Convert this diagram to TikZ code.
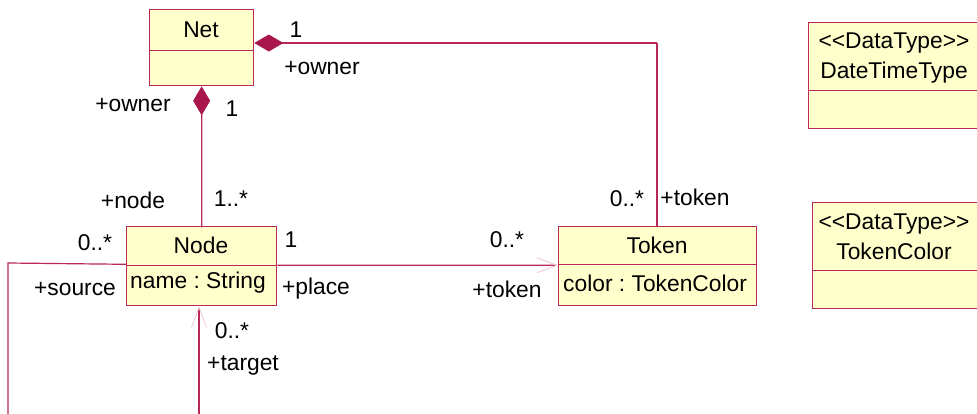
\documentclass[tikz,border=0pt]{standalone}
\usepackage{fontspec}
\setmainfont{Liberation Sans}
\usetikzlibrary{arrows.meta}
\definecolor{umlline}{HTML}{B8285A}
\definecolor{umlfill}{HTML}{FFFFCC}
\definecolor{umldia}{HTML}{A8164C}
\definecolor{faint}{HTML}{F2C4D0}
\frenchspacing
\begin{document}
\begin{tikzpicture}[x=1bp,y=-1bp,
  every node/.style={font=\fontsize{22.8bp}{30bp}\selectfont, inner sep=0pt},
  box/.style={draw=umlline, fill=umlfill, line width=1.3bp, anchor=north west, inner sep=0pt},
  conn/.style={draw=umlline, line width=1.2bp},
  comp/.style={-{Diamond[length=29bp,width=17bp,fill=umldia,color=umldia]}},
  nav/.style={-{Straight Barb[length=20bp,width=15bp,color=faint,line width=0.8bp]}},
  lbl/.style={anchor=center}]
\useasboundingbox (0,0) rectangle (977,413);
\clip (0,0) rectangle (977,413);
% Net
\node[box, minimum width=104bp, minimum height=41bp] (neth) at (149,9) {};
\node[box, minimum width=104bp, minimum height=35bp] (netb) at (149,50) {};
\node (nett) at (201,30) {Net};
% Node
\node[box, minimum width=150bp, minimum height=39bp] (nodeh) at (126,226) {};
\node[box, minimum width=150bp, minimum height=40bp] (nodeb) at (126,265) {};
\node (nodet) at (201,245) {Node};
\node[anchor=west] (nodea) at (130,283) {name : String};
% Token
\node[box, minimum width=198bp, minimum height=38bp] (tokh) at (558,226) {};
\node[box, minimum width=198bp, minimum height=41bp] (tokb) at (558,264) {};
\node (tokt) at (657,245) {Token};
\node[anchor=west] (toka) at (563,283) {color : TokenColor};
% DataTypes
\node[box, minimum width=190bp, minimum height=68bp] (dth) at (808,22) {};
\node[box, minimum width=190bp, minimum height=38bp] (dtb) at (808,90) {};
\node[align=center] (dtt) at (894,58) {<{}<DataType>{}>\\DateTimeType};
\node[box, minimum width=190bp, minimum height=68bp] (tch) at (812,202) {};
\node[box, minimum width=190bp, minimum height=38bp] (tcb) at (812,270) {};
\node[align=center] (tct) at (894,237) {<{}<DataType>{}>\\TokenColor};
% helper coordinates
\coordinate (c1) at (657,43);
\coordinate (s1) at (8,263);
\coordinate (s2) at (8,420);
\coordinate (t2) at (199,420);
% connectors
\draw[conn, comp] (c1) -- (neth.south east |- c1);
\draw[conn] (c1) -- (c1 |- tokh.north);
\draw[conn, comp] (netb.south -| nodeh.north) ++(0,141) -- (netb.south);
\draw[conn] (nodeh.north) -- ++(0,-109);
\draw[conn, nav] (nodeh.south east) ++(0,-1) -- (tokh.south west);
\draw[conn] (nodeh.south west) ++(0,-2) -- (s1) -- (s2);
\draw[conn, nav] (t2) -- (t2 |- nodeb.south);
% labels
\node[lbl] (l1) at (296,30) {1};
\node[lbl] (l2) at (322,68) {+owner};
\node[lbl] (l3) at (133,105) {+owner};
\node[lbl] (l4) at (232,109) {1};
\node[lbl] (l5) at (133,200) {+node};
\node[lbl] (l6) at (231,199) {1..*};
\node[lbl] (l7) at (627,199) {0..*};
\node[lbl] (l8) at (695,197) {+token};
\node[lbl] (l9) at (95,243) {0..*};
\node[lbl] (l10) at (291,240) {1};
\node[lbl] (l11) at (507,240) {0..*};
\node[lbl] (l12) at (75,289) {+source};
\node[lbl] (l13) at (316,289) {+place};
\node[lbl] (l14) at (507,289) {+token};
\node[lbl] (l15) at (232,331) {0..*};
\node[lbl] (l16) at (243,365) {+target};
\end{tikzpicture}
\end{document}
